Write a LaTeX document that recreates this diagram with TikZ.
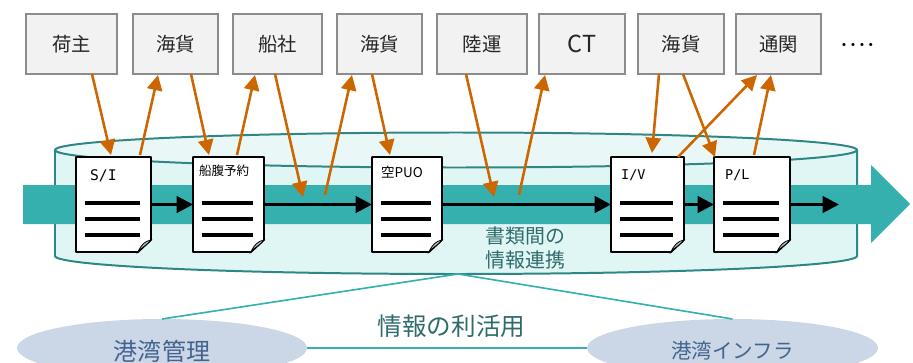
\documentclass[tikz,border=0pt]{standalone}
\usepackage{fontspec}
\setmainfont{Noto Sans CJK JP}
\newfontfamily\monolabel{DejaVu Sans Mono}
\usetikzlibrary{calc, arrows.meta, positioning, shapes.geometric}

\definecolor{flowteal}{HTML}{35B0AE}
\definecolor{drumline}{HTML}{2F8785}
\definecolor{drumbody}{HTML}{E0F6F5}
\definecolor{drumtop}{HTML}{E9F8F7}
\definecolor{flowcol}{HTML}{CC6600}
\definecolor{portblue}{HTML}{CBD7E6}
\definecolor{porttext}{HTML}{44648F}
\definecolor{linktext}{HTML}{2F6B6B}

\tikzset{
    party/.style={draw=black!45, fill=black!5, line width=2pt, minimum height=1.8cm, inner sep=0pt, outer sep=0pt, font=\fontsize{16.5}{18}\selectfont, text=black!85},
    docbox/.style={minimum height=2.85cm, inner sep=0pt, outer sep=0pt},
    flow/.style={->, draw=flowcol, line width=2.2pt, >={Triangle[length=13pt, width=13pt]}},
    chain/.style={->, draw=black, line width=2.8pt, >={Triangle[length=14pt, width=14pt]}},
    link/.style={draw=flowteal, line width=1.4pt},
    port/.style={ellipse, fill=portblue, minimum height=1.74cm, inner sep=0pt, outer sep=0pt},
}

% name, left edge, right edge
\newcommand{\docsheet}[3]{
    \node[docbox, minimum width={(#3-#2)*0.03cm}] (#1) at ({(#2+#3)/2},204.5) {};
    \draw[fill=white, line width=1.5pt, line join=round] (#2,157) -- (#3,157) -- (#3,240) -- ({#3-13},252) -- (#2,252) -- cycle;
    \draw[fill=black!25, line width=0.7pt] (#3,240) .. controls ({#3-6},241) and ({#3-10},245) .. ({#3-13},252) .. controls ({#3-10},248) and ({#3-5},246) .. cycle;
    \draw[line width=3.4pt] ({#2+9},203) -- ({#3-11},203);
    \draw[line width=3.4pt] ({#2+9},219) -- ({#3-11},219);
    \draw[line width=3.4pt] ({#2+9},235) -- ({#3-11},235);
}

\begin{document}
\begin{tikzpicture}[x=0.03cm, y=-0.03cm]
    \clip (0,0) rectangle (913,363);

    % Storage drum
    \fill[drumbody] (55,150) -- (55,256) arc[start angle=180, end angle=0, x radius=401, y radius=18] -- (857,150) -- cycle;
    \draw[drumline, line width=1.7pt] (55,150) -- (55,256) arc[start angle=180, end angle=0, x radius=401, y radius=18] -- (857,150);
    \draw[drumline, line width=1.7pt, fill=drumtop] (456,150) ellipse [x radius=401, y radius=17.5];

    % Main flow band
    \fill[flowteal] (23,185) -- (871,185) -- (871,165) -- (910,204) -- (871,243) -- (871,224) -- (23,224) -- cycle;

    % Parties
    \node[party, minimum width=2.73cm] (shipper) at (71.5,44) {荷主};
    \node[party, minimum width=2.55cm] (forwardA) at (175.5,44) {海貨};
    \node[party, minimum width=2.67cm] (carrier) at (277.5,44) {船社};
    \node[party, minimum width=2.55cm] (forwardB) at (379.5,44) {海貨};
    \node[party, minimum width=2.7cm] (trucker) at (482,44) {陸運};
    \node[party, minimum width=2.58cm, font=\fontsize{20}{22}\selectfont] (terminal) at (582,44) {CT};
    \node[party, minimum width=2.58cm] (forwardC) at (681,44) {海貨};
    \node[party, minimum width=2.55cm] (customs) at (778.5,44) {通関};
    \node[font=\bfseries\fontsize{12.5}{14}\selectfont] (more) at (857.5,47) {····};

    % Documents
    \docsheet{docSI}{76}{151}
    \docsheet{docBK}{193}{264}
    \docsheet{docPU}{372}{442}
    \docsheet{docIV}{611}{684}
    \docsheet{docPL}{714}{790}

    \node[font=\monolabel\fontsize{12.5}{14}\selectfont, anchor=west] (labSI) at (86,176) {S/I};
    \node[font=\fontsize{10.7}{12}\selectfont, anchor=west] (labBK) at (195,171) {船腹予約};
    \node[font=\fontsize{11.5}{13}\selectfont, anchor=west] (labPU) at (377,172) {空PUO};
    \node[font=\monolabel\fontsize{11.5}{14}\selectfont, anchor=west] (labIV) at (617,175) {I/V};
    \node[font=\monolabel\fontsize{11.5}{14}\selectfont, anchor=west] (labPL) at (721,175) {P/L};

    % Document chain
    \coordinate (chainEnd) at (839,204.5);
    \draw[chain] (docSI.east) -- (docBK.west);
    \draw[chain] (docBK.east) -- (docPU.west);
    \draw[chain] (docPU.east) -- (docIV.west);
    \draw[chain] (docIV.east) -- (docPL.west);
    \draw[chain] (docPL.east) -- (chainEnd);

    % Exchanges with the parties
    \coordinate (inA) at (303,197);
    \coordinate (outA) at (325,195);
    \coordinate (inB) at (494,197);
    \coordinate (outB) at (519,195);
    \draw[flow] ($(shipper.south)+(20.5,0)$) -- ($(docSI.north)+(-2.5,-2)$);
    \draw[flow] ($(docSI.north)+(26.5,-2)$) -- ($(forwardA.south)+(-17.5,1)$);
    \draw[flow] ($(forwardA.south)+(15.5,0)$) -- ($(docBK.north)+(-19.5,-2)$);
    \draw[flow] ($(docBK.north)+(8.5,-2)$) -- ($(carrier.south)+(-22.5,1)$);
    \draw[flow] ($(carrier.south)+(-2.5,0)$) -- (inA);
    \draw[flow] (outA) -- ($(forwardB.south)+(-27.5,1)$);
    \draw[flow] ($(forwardB.south)+(-7.5,0)$) -- ($(docPU.north)+(-17,-2)$);
    \draw[flow] ($(trucker.south)+(-16,0)$) -- (inB);
    \draw[flow] (outB) -- ($(terminal.south)+(-37,1)$);
    \draw[flow] ($(forwardC.south)+(-22,0)$) -- ($(docIV.north)+(4.5,-4)$);
    \draw[flow] ($(forwardC.south)+(2,0)$) -- ($(docPL.north)+(-37,0)$);
    \draw[flow] ($(docIV.north)+(30.5,0)$) -- ($(customs.south)+(-21.5,1)$);
    \draw[flow] ($(docPL.north)+(2,-2)$) -- ($(customs.south)+(-7.5,1)$);

    % Use of the linked data
    \node[text=linktext, font=\fontsize{17}{20.5}\selectfont, align=center] (linked) at (525.5,248) {書類間の\\情報連携};
    \node[port, minimum width=8.7cm] (portMgmt) at (162,348) {};
    \node[port, minimum width=8.73cm] (portInfra) at (732.5,348) {};
    \node[text=porttext, font=\fontsize{20.5}{24}\selectfont] (labMgmt) at (162,351) {港湾管理};
    \node[text=porttext, font=\fontsize{17.5}{20}\selectfont] (labInfra) at (732.5,351) {港湾インフラ};
    \node[text=linktext, font=\fontsize{21}{24}\selectfont] (usage) at (451.5,326) {情報の利活用};
    \coordinate (drumFoot) at (458,274);
    \draw[link] (portMgmt.north) -- (drumFoot);
    \draw[link] (drumFoot) -- (portInfra.north);
    \draw[link] (portMgmt.east) -- (portInfra.west);
\end{tikzpicture}
\end{document}
